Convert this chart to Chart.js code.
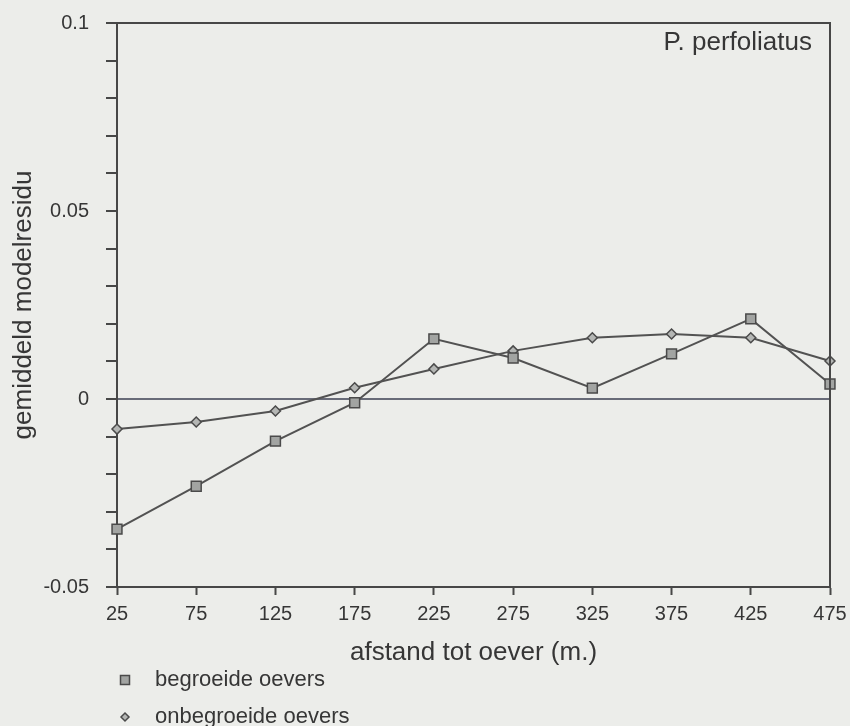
<!DOCTYPE html>
<html>
<head>
<meta charset="utf-8">
<script src="https://cdn.jsdelivr.net/npm/chart.js@4/dist/chart.umd.min.js"></script>
<style>
  html, body { margin: 0; padding: 0; background: #ecedea; }
  #wrap { width: 850px; height: 726px; position: relative; }
</style>
</head>
<body>
<div id="wrap"><canvas id="residuChart"></canvas></div>
<script>
// afstand tot oever (m.)
const distances = [25, 75, 125, 175, 225, 275, 325, 375, 425, 475];
// gemiddeld modelresidu per afstand
const begroeid   = [-0.0346, -0.0232, -0.0112, -0.001, 0.016, 0.0109, 0.0029, 0.012, 0.0213, 0.004];
const onbegroeid = [-0.008, -0.0061, -0.0032, 0.003, 0.008, 0.0128, 0.0163, 0.0173, 0.0163, 0.0101];
const seriesNames = ['begroeide oevers', 'onbegroeide oevers'];
const yLabels = [-0.05, 0, 0.05, 0.1];

const ink = '#474747';
const textInk = '#363636';
const fontFam = '"Liberation Sans", Arial, Helvetica, sans-serif';

// background, frame round the plot, species label, legend
const paperPlugin = {
  id: 'paper',
  beforeDraw(chart) {
    const ctx = chart.ctx;
    ctx.save();
    ctx.fillStyle = '#ecedea';
    ctx.fillRect(0, 0, chart.width, chart.height);
    ctx.restore();
  },
  afterDraw(chart) {
    const ctx = chart.ctx;
    const a = chart.chartArea;
    ctx.save();
    ctx.strokeStyle = ink;
    ctx.lineWidth = 2;
    ctx.beginPath();
    ctx.moveTo(a.left, a.top);
    ctx.lineTo(a.right, a.top);
    ctx.lineTo(a.right, a.bottom);
    ctx.stroke();

    ctx.fillStyle = textInk;
    ctx.font = '26px ' + fontFam;
    ctx.textAlign = 'right';
    ctx.textBaseline = 'middle';
    ctx.fillText('P. perfoliatus', a.right - 18, a.top + 20);

    // legend, stacked under the x title
    ctx.font = '22px ' + fontFam;
    ctx.textAlign = 'left';
    chart.data.datasets.forEach((ds, i) => {
      const y = 680 + i * 37;
      const x = 125;
      ctx.fillStyle = ds.pointBackgroundColor;
      ctx.strokeStyle = ds.pointBorderColor;
      ctx.lineWidth = 1.5;
      ctx.beginPath();
      if (ds.pointStyle === 'rect') {
        ctx.rect(x - 4.5, y - 4.5, 9, 9);
      } else {
        ctx.moveTo(x, y - 4);
        ctx.lineTo(x + 4, y);
        ctx.lineTo(x, y + 4);
        ctx.lineTo(x - 4, y);
        ctx.closePath();
      }
      ctx.fill();
      ctx.stroke();
      ctx.fillStyle = textInk;
      ctx.fillText(ds.label, 155, y);
    });
    ctx.restore();
  }
};

const ctx = document.getElementById('residuChart').getContext('2d');
new Chart(ctx, {
  type: 'line',
  data: {
    labels: distances.map(String),
    datasets: [{
      label: seriesNames[0],
      data: begroeid,
      borderColor: '#525252',
      borderWidth: 2,
      pointStyle: 'rect',
      pointRadius: 7,
      pointBackgroundColor: '#a2a4a2',
      pointBorderColor: '#4a4a4a',
      pointBorderWidth: 1.5,
      tension: 0,
      clip: false
    }, {
      label: seriesNames[1],
      data: onbegroeid,
      borderColor: '#525252',
      borderWidth: 2,
      pointStyle: 'rectRot',
      pointRadius: 5,
      pointBackgroundColor: '#b4b6b4',
      pointBorderColor: '#4a4a4a',
      pointBorderWidth: 1.5,
      tension: 0,
      clip: false
    }]
  },
  options: {
    responsive: true,
    maintainAspectRatio: false,
    animation: false,
    layout: { padding: { top: 23, right: 20, left: 0, bottom: 0 } },
    plugins: {
      legend: { display: false },
      tooltip: { enabled: false }
    },
    scales: {
      x: {
        type: 'category',
        offset: false,
        afterFit(scale) {
          scale.height = 139;
          scale.paddingLeft = 0;
          scale.paddingRight = 0;
        },
        grid: {
          drawOnChartArea: false,
          drawTicks: true,
          tickLength: 8,
          tickColor: ink,
          tickWidth: 2
        },
        border: { display: true, color: ink, width: 2 },
        ticks: {
          padding: 7,
          maxRotation: 0,
          autoSkip: false,
          color: textInk,
          font: { family: fontFam, size: 20 }
        },
        title: {
          display: true,
          text: 'afstand tot oever (m.)',
          color: textInk,
          font: { family: fontFam, size: 26 },
          padding: { top: 0, bottom: 58 }
        }
      },
      y: {
        min: -0.05,
        max: 0.1,
        afterFit(scale) {
          scale.width = 117;
          scale.paddingTop = 0;
          scale.paddingBottom = 0;
        },
        grid: {
          drawOnChartArea: true,
          drawTicks: true,
          tickLength: 11,
          tickWidth: 2,
          tickColor: ink,
          lineWidth: 2,
          color: c => (c.tick && Math.abs(c.tick.value) < 1e-9) ? '#686b78' : 'rgba(0,0,0,0)'
        },
        border: { display: true, color: ink, width: 2 },
        ticks: {
          stepSize: 0.01,
          autoSkip: false,
          padding: 17,
          color: textInk,
          font: { family: fontFam, size: 20 },
          callback(value) {
            const v = Math.round(value * 100) / 100;
            return yLabels.some(l => Math.abs(l - v) < 1e-9) ? String(v) : '';
          }
        },
        title: {
          display: true,
          text: 'gemiddeld modelresidu',
          color: textInk,
          font: { family: fontFam, size: 26 },
          padding: { top: 8, bottom: 0 }
        }
      }
    }
  },
  plugins: [paperPlugin]
});
</script>
</body>
</html>
